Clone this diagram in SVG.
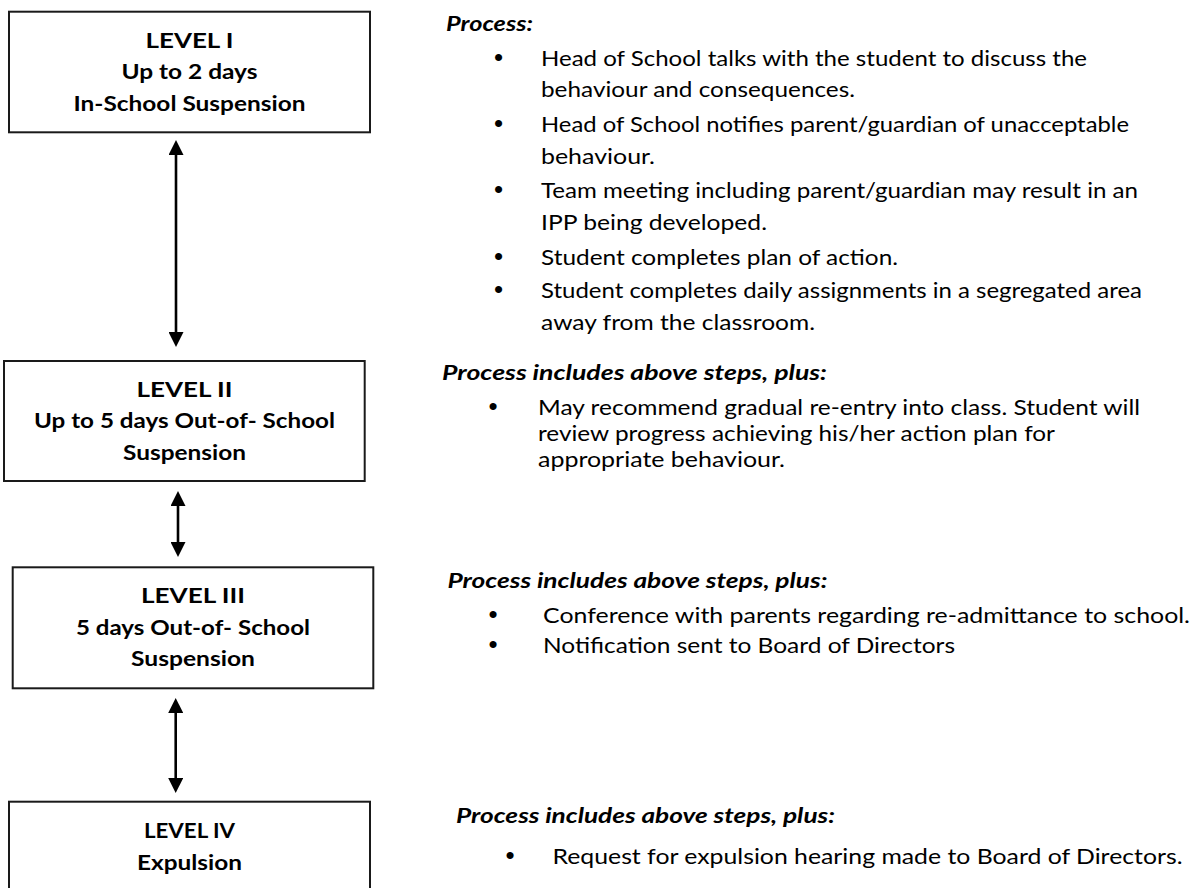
<svg xmlns="http://www.w3.org/2000/svg" width="1202" height="888" viewBox="0 0 1202 888">
<defs>
<style>
.box{fill:#fff;stroke:#1a1a1a;stroke-width:2}
.bt{font-family:Lato,"Liberation Sans",sans-serif;font-weight:bold;font-size:20px;fill:#000;text-anchor:middle}
.tx{font-family:Lato,"Liberation Sans",sans-serif;font-size:21px;fill:#000}
.tc{font-family:Lato,"Liberation Sans",sans-serif;font-size:22px;fill:#000}
.hd{font-family:Lato,"Liberation Sans",sans-serif;font-size:21px;font-weight:bold;font-style:italic;fill:#000}
.bu{font-family:"Liberation Sans",sans-serif;font-size:26px;fill:#000;text-anchor:middle}
.conn{stroke:#000;stroke-width:2.6;fill:none;marker-start:url(#ah);marker-end:url(#ah)}
</style>
<marker id="ah" viewBox="0 0 15 15" refX="3" refY="7.5" markerWidth="15" markerHeight="15" orient="auto-start-reverse" markerUnits="userSpaceOnUse">
<path d="M0,0 L15,7.5 L0,15 Z" fill="#000"/>
</marker>
</defs>
<rect width="1202" height="888" fill="#fff"/>

<g id="connectors">
<line class="conn" x1="176" y1="152" x2="176" y2="335"/>
<line class="conn" x1="178" y1="503" x2="178" y2="545"/>
<line class="conn" x1="175.7" y1="710" x2="175.7" y2="781"/>
</g>

<g id="level1">
<rect class="box" x="9" y="11.7" width="361" height="120.6"/>
<text class="bt" x="189.5" y="47.7" textLength="88" lengthAdjust="spacingAndGlyphs">LEVEL I</text>
<text class="bt" x="189.5" y="79.3" textLength="136" lengthAdjust="spacingAndGlyphs">Up to 2 days</text>
<text class="bt" x="189.5" y="111" textLength="232" lengthAdjust="spacingAndGlyphs">In-School Suspension</text>
</g>

<g id="level2">
<rect class="box" x="4" y="361" width="360.7" height="120"/>
<text class="bt" x="184.5" y="396.5" textLength="96" lengthAdjust="spacingAndGlyphs">LEVEL II</text>
<text class="bt" x="184.5" y="428" textLength="301" lengthAdjust="spacingAndGlyphs">Up to 5 days Out-of- School</text>
<text class="bt" x="184.5" y="460" textLength="123" lengthAdjust="spacingAndGlyphs">Suspension</text>
</g>

<g id="level3">
<rect class="box" x="12.7" y="567.3" width="360.6" height="121"/>
<text class="bt" x="193" y="602.5" textLength="104" lengthAdjust="spacingAndGlyphs">LEVEL III</text>
<text class="bt" x="193" y="634.5" textLength="234" lengthAdjust="spacingAndGlyphs">5 days Out-of- School</text>
<text class="bt" x="193" y="666" textLength="124" lengthAdjust="spacingAndGlyphs">Suspension</text>
</g>

<g id="level4">
<rect class="box" x="9" y="801.7" width="361" height="100"/>
<text class="bt" x="189.5" y="838" textLength="91" lengthAdjust="spacingAndGlyphs">LEVEL IV</text>
<text class="bt" x="189.5" y="870" textLength="105" lengthAdjust="spacingAndGlyphs">Expulsion</text>
</g>

<g id="process1">
<text class="hd" x="446" y="30.7" textLength="87" lengthAdjust="spacingAndGlyphs">Process:</text>
<text class="bu" x="498.5" y="65.7">•</text>
<text class="tx" x="541" y="65.7" textLength="546" lengthAdjust="spacingAndGlyphs">Head of School talks with the student to discuss the</text>
<text class="tx" x="541" y="96.7" textLength="314" lengthAdjust="spacingAndGlyphs">behaviour and consequences.</text>
<text class="bu" x="498.5" y="131.7">•</text>
<text class="tx" x="541" y="131.7" textLength="588" lengthAdjust="spacingAndGlyphs">Head of School notifies parent/guardian of unacceptable</text>
<text class="tx" x="541" y="164" textLength="114" lengthAdjust="spacingAndGlyphs">behaviour.</text>
<text class="bu" x="498.5" y="198">•</text>
<text class="tx" x="541" y="198" textLength="597" lengthAdjust="spacingAndGlyphs">Team meeting including parent/guardian may result in an</text>
<text class="tx" x="541" y="230" textLength="226" lengthAdjust="spacingAndGlyphs">IPP being developed.</text>
<text class="bu" x="498.5" y="265">•</text>
<text class="tx" x="541" y="265" textLength="357" lengthAdjust="spacingAndGlyphs">Student completes plan of action.</text>
<text class="bu" x="498.5" y="298.3">•</text>
<text class="tx" x="541" y="298.3" textLength="601" lengthAdjust="spacingAndGlyphs">Student completes daily assignments in a segregated area</text>
<text class="tx" x="541" y="330" textLength="274" lengthAdjust="spacingAndGlyphs">away from the classroom.</text>
</g>

<g id="process2">
<text class="hd" x="442" y="380" textLength="385" lengthAdjust="spacingAndGlyphs">Process includes above steps, plus:</text>
<text class="bu" x="493" y="415">•</text>
<text class="tc" x="538" y="415" textLength="602" lengthAdjust="spacingAndGlyphs">May recommend gradual re-entry into class. Student will</text>
<text class="tc" x="538" y="441" textLength="517" lengthAdjust="spacingAndGlyphs">review progress achieving his/her action plan for</text>
<text class="tc" x="538" y="467" textLength="247" lengthAdjust="spacingAndGlyphs">appropriate behaviour.</text>
</g>

<g id="process3">
<text class="hd" x="447.5" y="588" textLength="380" lengthAdjust="spacingAndGlyphs">Process includes above steps, plus:</text>
<text class="bu" x="493" y="623">•</text>
<text class="tc" x="543" y="623" textLength="647" lengthAdjust="spacingAndGlyphs">Conference with parents regarding re-admittance to school.</text>
<text class="bu" x="493" y="653">•</text>
<text class="tc" x="543" y="653" textLength="412" lengthAdjust="spacingAndGlyphs">Notification sent to Board of Directors</text>
</g>

<g id="process4">
<text class="hd" x="456" y="823" textLength="379" lengthAdjust="spacingAndGlyphs">Process includes above steps, plus:</text>
<text class="bu" x="510" y="864">•</text>
<text class="tc" x="552.5" y="864" textLength="630" lengthAdjust="spacingAndGlyphs">Request for expulsion hearing made to Board of Directors.</text>
</g>
</svg>
